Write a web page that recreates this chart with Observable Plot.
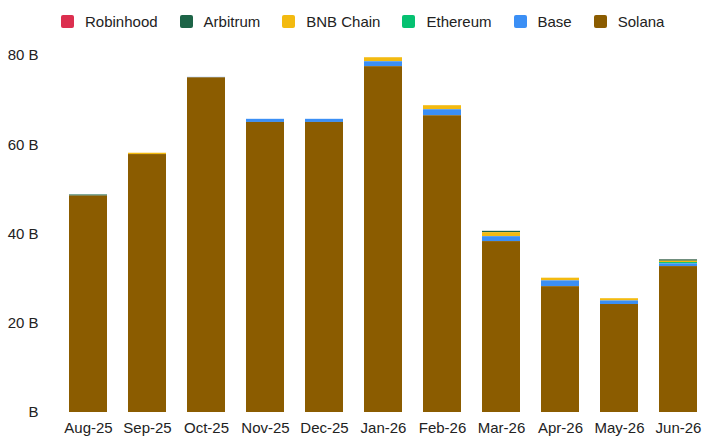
<!DOCTYPE html>
<html>
<head>
<meta charset="utf-8">
<script src="https://cdn.jsdelivr.net/npm/d3@7"></script>
<script src="https://cdn.jsdelivr.net/npm/@observablehq/plot@0.6"></script>
<style>
  html, body { margin: 0; padding: 0; background: #fff; }
  body { width: 706px; height: 443px; overflow: hidden; font-family: "Liberation Sans", Arial, Helvetica, sans-serif; }
  #legend { height: 40px; display: flex; align-items: center; padding-left: 61px; padding-top: 3px; box-sizing: border-box; font-size: 15px; color: #222; }
  .item { display: flex; align-items: center; margin-right: 22px; }
  .sw { width: 13px; height: 13px; border-radius: 2px; margin-right: 11px; }
  #chart svg { display: block; }
</style>
</head>
<body>
<div id="legend"></div>
<div id="chart"></div>
<script>
const months = ["Aug-25","Sep-25","Oct-25","Nov-25","Dec-25","Jan-26","Feb-26","Mar-26","Apr-26","May-26","Jun-26"];
const seriesNames = ["Robinhood","Arbitrum","BNB Chain","Ethereum","Base","Solana"];
const seriesColors = ["#dc2f4f","#1d6447","#f3ba10","#05c171","#3b8ff5","#8b5c00"];
const robinhood = [0, 0, 0, 0, 0, 0, 0, 0, 0, 0, 0.05];
const arbitrum  = [0.25, 0, 0, 0, 0, 0, 0, 0.3, 0, 0, 0.3];
const bnbChain  = [0, 0.3, 0, 0, 0, 0.9, 0.9, 0.9, 0.6, 0.5, 0.3];
const ethereum  = [0, 0, 0, 0, 0, 0, 0, 0, 0, 0, 0.3];
const base      = [0, 0, 0.1, 0.7, 0.7, 1.1, 1.35, 1.1, 1.3, 0.8, 0.6];
const solana    = [48.5, 57.8, 75.0, 65.0, 65.0, 77.5, 66.5, 38.3, 28.2, 24.2, 32.7];
const yTicks = [0, 20, 40, 60, 80];

const valuesBySeries = {"Robinhood": robinhood, "Arbitrum": arbitrum, "BNB Chain": bnbChain, "Ethereum": ethereum, "Base": base, "Solana": solana};
const data = [];
for (const s of seriesNames) {
  months.forEach((m, i) => data.push({month: m, series: s, value: valuesBySeries[s][i]}));
}

const legend = document.getElementById("legend");
seriesNames.forEach((s, i) => {
  const it = document.createElement("div");
  it.className = "item";
  const sw = document.createElement("span");
  sw.className = "sw";
  sw.style.background = seriesColors[i];
  const t = document.createElement("span");
  t.textContent = s;
  it.appendChild(sw); it.appendChild(t);
  legend.appendChild(it);
});

const chart = Plot.plot({
  width: 706,
  height: 403,
  marginLeft: 59,
  marginRight: 0,
  marginTop: 15,
  marginBottom: 31,
  style: {fontFamily: "'Liberation Sans', Arial, Helvetica, sans-serif", fontSize: "15px", color: "#222"},
  x: {domain: months, paddingInner: 0.36, paddingOuter: 0.15, label: null, tickSize: 0, tickPadding: 10},
  y: {domain: [0, 80], ticks: yTicks, label: null, tickSize: 0, tickPadding: 21, tickFormat: d => d === 0 ? "B" : d + " B"},
  color: {domain: seriesNames, range: seriesColors},
  marks: [
    Plot.barY(data, Plot.stackY({x: "month", y: "value", fill: "series", order: ["Solana","Base","Ethereum","BNB Chain","Arbitrum","Robinhood"]}))
  ]
});
document.getElementById("chart").appendChild(chart);
</script>
</body>
</html>
